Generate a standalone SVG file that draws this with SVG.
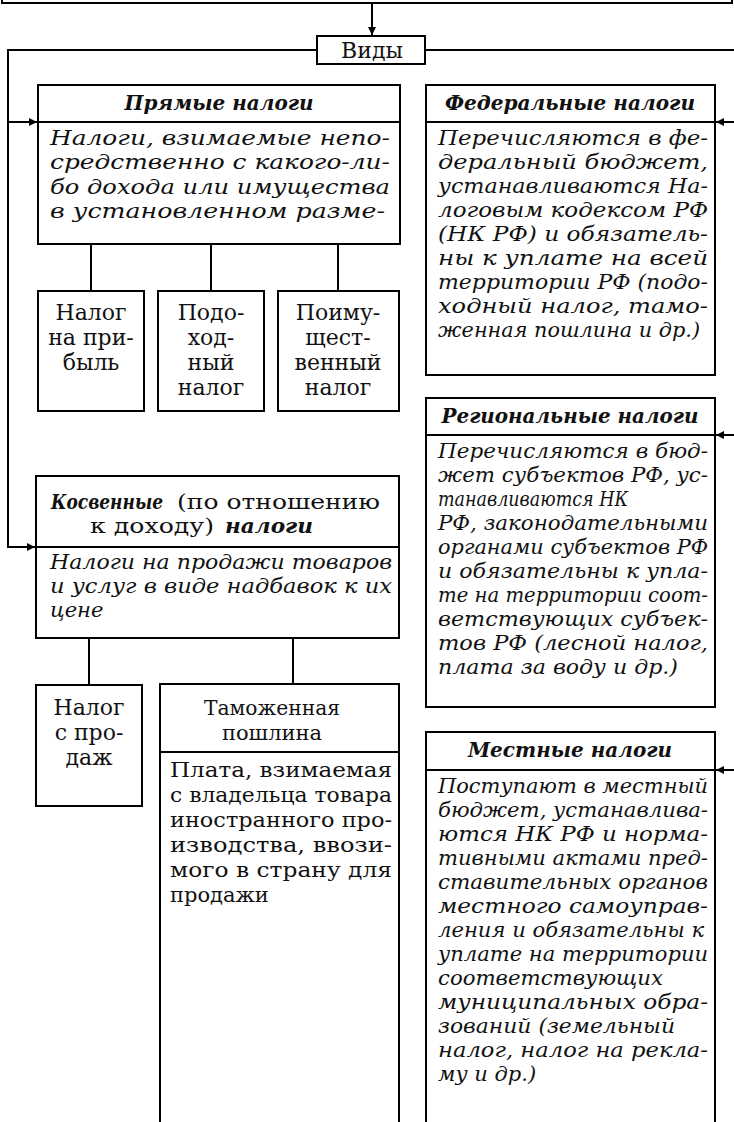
<svg xmlns="http://www.w3.org/2000/svg" width="734" height="1122" viewBox="0 0 734 1122">
<style>
.box{fill:#fff;stroke:#000;stroke-width:2}
.sep{stroke:#000;stroke-width:2}
.con{fill:none;stroke:#000;stroke-width:2}
.t{font-family:"DejaVu Serif","Liberation Serif",serif;font-size:21px;fill:#111}
.l{font-size:22px}
.i{font-style:italic}
.b{font-weight:bold;font-style:italic}
.c{text-anchor:middle}
</style>
<defs>
<marker id="ah" viewBox="0 0 10 10" refX="10" refY="5" markerWidth="12" markerHeight="8" markerUnits="userSpaceOnUse" orient="auto"><path d="M0,0 L10,5 L0,10 z" fill="#000"/></marker>
</defs>
<rect width="734" height="1122" fill="#fff"/>

<g id="top-box"><path class="con" d="M2,-2 V3 H732 V-2"/></g>

<g id="connectors">
<path class="con" d="M372,3 V35" marker-end="url(#ah)"/>
<path class="con" d="M317,50 H8 V547 H35" marker-end="url(#ah)"/>
<path class="con" d="M8,122 H37" marker-end="url(#ah)"/>
<path class="con" d="M425,50 H736"/>
<path class="con" d="M736,122 H716" marker-end="url(#ah)"/>
<path class="con" d="M736,435 H716" marker-end="url(#ah)"/>
<path class="con" d="M736,770 H716" marker-end="url(#ah)"/>
<path class="con" d="M91,244 V291 M211,244 V291 M338,244 V291"/>
<path class="con" d="M89,638 V685 M293,638 V684"/>
</g>

<g id="vidy">
<rect class="box" x="317" y="36" width="108" height="28"/>
<text class="t c" x="372" y="58" style="font-size:22px">Виды</text>
</g>

<g id="pryamye">
<rect class="box" x="38" y="85" width="362" height="159"/>
<line class="sep" x1="38" y1="122" x2="400" y2="122"/>
<text class="t b c" x="219" y="110" textLength="189" lengthAdjust="spacingAndGlyphs">Прямые налоги</text>
<text class="t i" x="50" y="145" textLength="340" lengthAdjust="spacingAndGlyphs">Налоги, взимаемые непо-</text>
<text class="t i" x="50" y="169" textLength="340" lengthAdjust="spacingAndGlyphs">средственно с какого-ли-</text>
<text class="t i" x="50" y="194" textLength="340" lengthAdjust="spacingAndGlyphs">бо дохода или имущества</text>
<text class="t i" x="50" y="218" textLength="335" lengthAdjust="spacingAndGlyphs">в установленном разме-</text>
</g>

<g id="nalog-na-pribyl">
<rect class="box" x="38" y="291" width="106" height="120"/>
<text class="t l c" x="91" y="320">Налог</text>
<text class="t l c" x="91" y="345">на при-</text>
<text class="t l c" x="91" y="370">быль</text>
</g>

<g id="podohodny">
<rect class="box" x="158" y="291" width="106" height="120"/>
<text class="t l c" x="211" y="320">Подо-</text>
<text class="t l c" x="211" y="345">ход-</text>
<text class="t l c" x="211" y="370">ный</text>
<text class="t l c" x="211" y="395">налог</text>
</g>

<g id="imushchestvenny">
<rect class="box" x="278" y="291" width="121" height="120"/>
<text class="t l c" x="338" y="320">Поиму-</text>
<text class="t l c" x="338" y="345">щест-</text>
<text class="t l c" x="338" y="370">венный</text>
<text class="t l c" x="338" y="395">налог</text>
</g>

<g id="kosvennye">
<rect class="box" x="36" y="476" width="363" height="162"/>
<line class="sep" x1="36" y1="547" x2="399" y2="547"/>
<text class="t b" x="51" y="509" textLength="112" lengthAdjust="spacingAndGlyphs">Косвенные</text>
<text class="t" x="177" y="509" textLength="203" lengthAdjust="spacingAndGlyphs">(по отношению</text>
<text class="t" x="90" y="533" textLength="124" lengthAdjust="spacingAndGlyphs">к доходу)</text>
<text class="t b" x="225" y="533" textLength="88" lengthAdjust="spacingAndGlyphs">налоги</text>
<text class="t i" x="50" y="569" textLength="342" lengthAdjust="spacingAndGlyphs">Налоги на продажи товаров</text>
<text class="t i" x="50" y="593" textLength="342" lengthAdjust="spacingAndGlyphs">и услуг в виде надбавок к их</text>
<text class="t i" x="50" y="617">цене</text>
</g>

<g id="nalog-s-prodazh">
<rect class="box" x="36" y="685" width="106" height="121"/>
<text class="t l c" x="89" y="715">Налог</text>
<text class="t l c" x="89" y="740">с про-</text>
<text class="t l c" x="89" y="765">даж</text>
</g>

<g id="tamozhennaya">
<rect class="box" x="160" y="684" width="239" height="460"/>
<line class="sep" x1="160" y1="752" x2="399" y2="752"/>
<text class="t c" x="272" y="715" textLength="136" lengthAdjust="spacingAndGlyphs">Таможенная</text>
<text class="t c" x="272" y="740">пошлина</text>
<text class="t" x="170" y="777" textLength="222" lengthAdjust="spacingAndGlyphs">Плата, взимаемая</text>
<text class="t" x="170" y="802" textLength="222" lengthAdjust="spacingAndGlyphs">с владельца товара</text>
<text class="t" x="170" y="827" textLength="222" lengthAdjust="spacingAndGlyphs">иностранного про-</text>
<text class="t" x="170" y="852" textLength="222" lengthAdjust="spacingAndGlyphs">изводства, ввози-</text>
<text class="t" x="170" y="877" textLength="222" lengthAdjust="spacingAndGlyphs">мого в страну для</text>
<text class="t" x="170" y="902">продажи</text>
</g>

<g id="federalnye">
<rect class="box" x="426" y="85" width="289" height="290"/>
<line class="sep" x1="426" y1="122" x2="715" y2="122"/>
<text class="t b c" x="570" y="110" textLength="250" lengthAdjust="spacingAndGlyphs">Федеральные налоги</text>
<text class="t i" x="438" y="145" textLength="270" lengthAdjust="spacingAndGlyphs">Перечисляются в фе-</text>
<text class="t i" x="438" y="169" textLength="270" lengthAdjust="spacingAndGlyphs">деральный бюджет,</text>
<text class="t i" x="438" y="193" textLength="270" lengthAdjust="spacingAndGlyphs">устанавливаются На-</text>
<text class="t i" x="438" y="217" textLength="270" lengthAdjust="spacingAndGlyphs">логовым кодексом РФ</text>
<text class="t i" x="438" y="241" textLength="270" lengthAdjust="spacingAndGlyphs">(НК РФ) и обязатель-</text>
<text class="t i" x="438" y="265" textLength="270" lengthAdjust="spacingAndGlyphs">ны к уплате на всей</text>
<text class="t i" x="438" y="289" textLength="270" lengthAdjust="spacingAndGlyphs">территории РФ (подо-</text>
<text class="t i" x="438" y="313" textLength="270" lengthAdjust="spacingAndGlyphs">ходный налог, тамо-</text>
<text class="t i" x="438" y="337" textLength="262" lengthAdjust="spacingAndGlyphs">женная пошлина и др.)</text>
</g>

<g id="regionalnye">
<rect class="box" x="426" y="398" width="289" height="309"/>
<line class="sep" x1="426" y1="435" x2="715" y2="435"/>
<text class="t b c" x="570" y="423" textLength="257" lengthAdjust="spacingAndGlyphs">Региональные налоги</text>
<text class="t i" x="438" y="458" textLength="270" lengthAdjust="spacingAndGlyphs">Перечисляются в бюд-</text>
<text class="t i" x="438" y="482" textLength="270" lengthAdjust="spacingAndGlyphs">жет субъектов РФ, ус-</text>
<text class="t i" x="438" y="506" textLength="190" lengthAdjust="spacingAndGlyphs">танавливаются НК</text>
<text class="t i" x="438" y="530" textLength="270" lengthAdjust="spacingAndGlyphs">РФ, законодательными</text>
<text class="t i" x="438" y="554" textLength="270" lengthAdjust="spacingAndGlyphs">органами субъектов РФ</text>
<text class="t i" x="438" y="578" textLength="270" lengthAdjust="spacingAndGlyphs">и обязательны к упла-</text>
<text class="t i" x="438" y="602" textLength="270" lengthAdjust="spacingAndGlyphs">те на территории соот-</text>
<text class="t i" x="438" y="626" textLength="270" lengthAdjust="spacingAndGlyphs">ветствующих субъек-</text>
<text class="t i" x="438" y="650" textLength="270" lengthAdjust="spacingAndGlyphs">тов РФ (лесной налог,</text>
<text class="t i" x="438" y="674" textLength="240" lengthAdjust="spacingAndGlyphs">плата за воду и др.)</text>
</g>

<g id="mestnye">
<rect class="box" x="426" y="732" width="289" height="410"/>
<line class="sep" x1="426" y1="770" x2="715" y2="770"/>
<text class="t b c" x="570" y="757" textLength="204" lengthAdjust="spacingAndGlyphs">Местные налоги</text>
<text class="t i" x="438" y="793" textLength="270" lengthAdjust="spacingAndGlyphs">Поступают в местный</text>
<text class="t i" x="438" y="817" textLength="270" lengthAdjust="spacingAndGlyphs">бюджет, устанавлива-</text>
<text class="t i" x="438" y="841" textLength="270" lengthAdjust="spacingAndGlyphs">ются НК РФ и норма-</text>
<text class="t i" x="438" y="865" textLength="270" lengthAdjust="spacingAndGlyphs">тивными актами пред-</text>
<text class="t i" x="438" y="889" textLength="270" lengthAdjust="spacingAndGlyphs">ставительных органов</text>
<text class="t i" x="438" y="913" textLength="270" lengthAdjust="spacingAndGlyphs">местного самоуправ-</text>
<text class="t i" x="438" y="937" textLength="266" lengthAdjust="spacingAndGlyphs">ления и обязательны к</text>
<text class="t i" x="438" y="961" textLength="270" lengthAdjust="spacingAndGlyphs">уплате на территории</text>
<text class="t i" x="438" y="985" textLength="225" lengthAdjust="spacingAndGlyphs">соответствующих</text>
<text class="t i" x="438" y="1009" textLength="270" lengthAdjust="spacingAndGlyphs">муниципальных обра-</text>
<text class="t i" x="438" y="1033" textLength="237" lengthAdjust="spacingAndGlyphs">зований (земельный</text>
<text class="t i" x="438" y="1057" textLength="270" lengthAdjust="spacingAndGlyphs">налог, налог на рекла-</text>
<text class="t i" x="438" y="1081">му и др.)</text>
</g>
</svg>
